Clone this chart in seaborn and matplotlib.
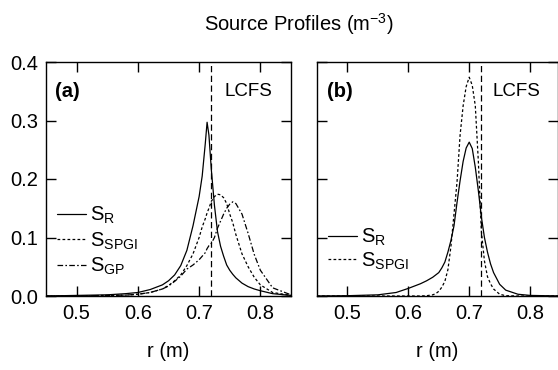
import matplotlib
matplotlib.use("Agg")
import matplotlib.pyplot as plt
import seaborn as sns
import pandas as pd

# ---- data ----
r_a = [0.45, 0.50, 0.55, 0.58, 0.60, 0.62, 0.64, 0.65, 0.66, 0.67, 0.68, 0.69, 0.70,
       0.705, 0.71, 0.713, 0.716, 0.72, 0.725, 0.73, 0.735, 0.74, 0.745, 0.75, 0.755,
       0.76, 0.77, 0.78, 0.79, 0.80, 0.82, 0.85]
s_r_a = [0.0, 0.001, 0.002, 0.004, 0.006, 0.011, 0.019, 0.026, 0.036, 0.052, 0.078, 0.12, 0.17,
         0.205, 0.26, 0.297, 0.275, 0.215, 0.155, 0.11, 0.085, 0.068, 0.053, 0.044, 0.037,
         0.031, 0.022, 0.016, 0.012, 0.009, 0.004, 0.001]
s_spgi_a = [0.0, 0.0, 0.001, 0.0015, 0.003, 0.006, 0.012, 0.018, 0.026, 0.036, 0.052, 0.072, 0.10,
            0.118, 0.132, 0.142, 0.150, 0.162, 0.170, 0.174, 0.173, 0.168, 0.158, 0.14, 0.125,
            0.105, 0.072, 0.05, 0.032, 0.019, 0.006, 0.001]
s_gp_a = [0.0, 0.0, 0.001, 0.0015, 0.003, 0.006, 0.012, 0.017, 0.025, 0.034, 0.046, 0.053, 0.062,
          0.068, 0.074, 0.081, 0.086, 0.09, 0.10, 0.116, 0.128, 0.14, 0.15, 0.157, 0.161,
          0.158, 0.14, 0.107, 0.071, 0.044, 0.014, 0.002]

r_b = [0.45, 0.50, 0.55, 0.58, 0.60, 0.62, 0.63, 0.64, 0.645, 0.65, 0.655, 0.66, 0.665, 0.67,
       0.675, 0.68, 0.685, 0.69, 0.695, 0.70, 0.705, 0.71, 0.715, 0.72, 0.725, 0.73, 0.735,
       0.74, 0.75, 0.76, 0.78, 0.80, 0.85]
s_r_b = [0.0, 0.0005, 0.002, 0.006, 0.013, 0.021, 0.026, 0.032, 0.036, 0.04, 0.048, 0.058, 0.075, 0.095,
         0.12, 0.16, 0.197, 0.23, 0.253, 0.263, 0.252, 0.22, 0.18, 0.135, 0.10, 0.075, 0.055,
         0.04, 0.02, 0.01, 0.003, 0.001, 0.0]
s_spgi_b = [0.0, 0.0, 0.0, 0.0, 0.0, 0.0, 0.0005, 0.002, 0.004, 0.008, 0.015, 0.025, 0.045, 0.085,
            0.14, 0.195, 0.275, 0.325, 0.358, 0.374, 0.36, 0.325, 0.23, 0.11, 0.06, 0.033, 0.021,
            0.012, 0.003, 0.0005, 0.0, 0.0, 0.0]

lcfs = 0.72
x_ticks = [0.5, 0.6, 0.7, 0.8]
y_ticks = [0.0, 0.1, 0.2, 0.3, 0.4]

sns.set_style("ticks")
plt.rcParams["font.family"] = ["Liberation Sans", "DejaVu Sans"]
plt.rcParams["mathtext.fontset"] = "custom"
plt.rcParams["mathtext.rm"] = "Liberation Sans"
plt.rcParams["mathtext.it"] = "Liberation Sans:italic"
plt.rcParams["mathtext.bf"] = "Liberation Sans:bold"
plt.rcParams["text.color"] = "black"
plt.rcParams["axes.labelcolor"] = "black"
plt.rcParams["xtick.color"] = "black"
plt.rcParams["ytick.color"] = "black"

FS = 14.5
LW = 0.9
fig = plt.figure(figsize=(5.58, 3.70), dpi=100)
ax_a = fig.add_axes([46 / 558, 74 / 370, 245 / 558, 234 / 370])
ax_b = fig.add_axes([317 / 558, 74 / 370, 240.5 / 558, 234 / 370])

df_a = pd.DataFrame({"r": r_a, "S_R": s_r_a, "S_SPGI": s_spgi_a, "S_GP": s_gp_a})
df_b = pd.DataFrame({"r": r_b, "S_R": s_r_b, "S_SPGI": s_spgi_b})

styles = {
    "S_R": dict(linestyle="-", label=r"S$_\mathrm{R}$"),
    "S_SPGI": dict(linestyle=(0, (2.2, 1.8)), label=r"S$_\mathrm{SPGI}$"),
    "S_GP": dict(linestyle=(0, (4.5, 1.8, 1.3, 1.8)), label=r"S$_\mathrm{GP}$"),
}

for ax, df, xmax in [(ax_a, df_a, 0.85), (ax_b, df_b, 0.845)]:
    for col in df.columns[1:]:
        sns.lineplot(data=df, x="r", y=col, ax=ax, color="black", lw=LW, **styles[col])
    ax.axvline(lcfs, color="black", lw=LW, linestyle=(0, (5, 2.8)))
    ax.set_xlim(0.45, xmax)
    ax.set_ylim(0, 0.4)
    ax.set_xticks(x_ticks)
    ax.set_xticklabels([f"{t:.1f}" for t in x_ticks])
    ax.set_yticks(y_ticks)
    ax.tick_params(direction="in", length=7, width=1.0, top=True, right=True,
                   labelsize=FS, pad=5.5, color="black", labelcolor="black")
    for s in ax.spines.values():
        s.set_linewidth(1.0)
        s.set_color("black")
    ax.set_xlabel("r (m)", fontsize=FS, labelpad=14, color="black")
    ax.set_ylabel("")
    ax.text(0.73, 0.872, "LCFS", transform=ax.transAxes, fontsize=FS - 1, va="center", ha="left")

ax_a.set_yticklabels([f"{t:.1f}" for t in y_ticks])
ax_b.set_yticklabels([])

ax_a.text(0.035, 0.872, "(a)", transform=ax_a.transAxes, fontsize=FS, fontweight="bold", va="center")
ax_b.text(0.04, 0.872, "(b)", transform=ax_b.transAxes, fontsize=FS, fontweight="bold", va="center")

for ax, yc, sp in [(ax_a, 0.235, 0.22), (ax_b, 0.2, 0.12)]:
    leg = ax.legend(loc="center left", bbox_to_anchor=(0.045, yc), frameon=False, fontsize=FS,
                    handlelength=1.45, handletextpad=0.2, labelspacing=sp, borderpad=0, borderaxespad=0)
    for t in leg.get_texts():
        t.set_color("black")

fig.text(299 / 558, 1 - 31 / 370, r"Source Profiles (m$^{\mathrm{-3}}$)", fontsize=FS,
         ha="center", va="baseline")

fig.savefig("out.png", dpi=100)
